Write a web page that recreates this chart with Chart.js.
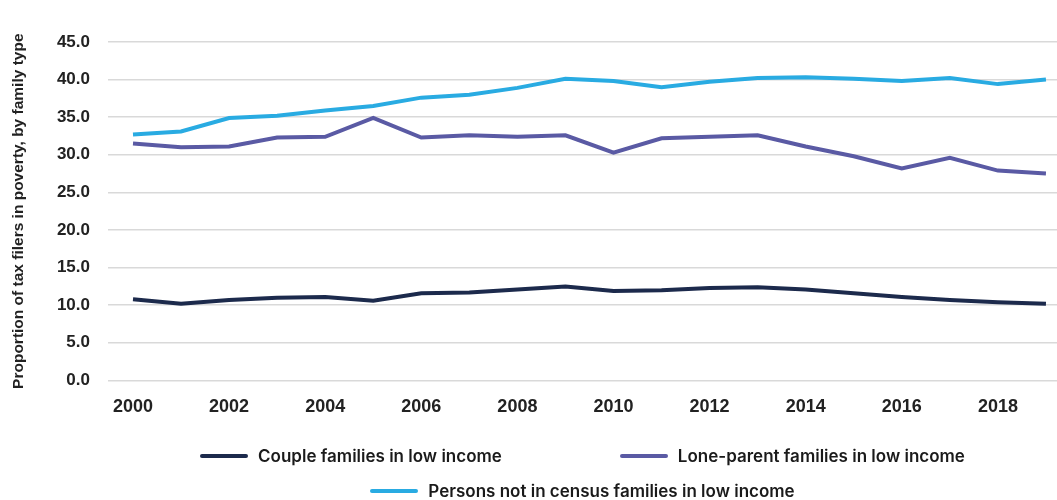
<!DOCTYPE html>
<html>
<head>
<meta charset="utf-8">
<script src="https://cdn.jsdelivr.net/npm/chart.js@4"></script>
<style>
  body { margin: 0; background: #fff; font-family: Inter, sans-serif; }
  #wrap { position: relative; width: 1057px; height: 500px; }
  #box { position: absolute; left: 0; top: 0; width: 1057px; height: 442px; }
  #legend { position: absolute; left: 108px; right: 0; top: 438px; color: #1a1a1a;
            font-size: 17px; font-weight: 600; }
  .row { display: flex; justify-content: center; gap: 118px; height: 35px; align-items: center; }
  .item { display: flex; align-items: center; }
  .swatch { width: 48px; height: 4px; border-radius: 2px; margin-right: 10px; }
</style>
</head>
<body>
<div id="wrap">
  <div id="box"><canvas id="chart"></canvas></div>
  <div id="legend"></div>
</div>
<script>
var years = [2000, 2001, 2002, 2003, 2004, 2005, 2006, 2007, 2008, 2009,
             2010, 2011, 2012, 2013, 2014, 2015, 2016, 2017, 2018, 2019];
var couple = [10.8, 10.2, 10.7, 11.0, 11.1, 10.6, 11.6, 11.7, 12.1, 12.5,
              11.9, 12.0, 12.3, 12.4, 12.1, 11.6, 11.1, 10.7, 10.4, 10.2];
var loneParent = [31.5, 31.0, 31.1, 32.3, 32.4, 34.9, 32.3, 32.6, 32.4, 32.6,
                  30.3, 32.2, 32.4, 32.6, 31.1, 29.8, 28.2, 29.6, 27.9, 27.5];
var personsNot = [32.7, 33.1, 34.9, 35.2, 35.9, 36.5, 37.6, 38.0, 38.9, 40.1,
                  39.8, 39.0, 39.7, 40.2, 40.3, 40.1, 39.8, 40.2, 39.4, 40.0];
var tickYears = [2000, 2002, 2004, 2006, 2008, 2010, 2012, 2014, 2016, 2018];
var seriesNames = ['Couple families in low income', 'Lone-parent families in low income',
                   'Persons not in census families in low income'];
var seriesColors = ['#1c2a4c', '#5a5aa4', '#29abe2'];

function points(vals) {
    return vals.map(function (v, i) { return {x: years[i], y: v}; });
}

var ctx = document.getElementById('chart').getContext('2d');
var chart = new Chart(ctx, {
    type: 'line',
    data: {
        datasets: [couple, loneParent, personsNot].map(function (vals, i) {
            return {
                label: seriesNames[i],
                data: points(vals),
                borderColor: seriesColors[i],
                backgroundColor: seriesColors[i],
                borderWidth: 4,
                pointRadius: 0,
                tension: 0
            };
        })
    },
    options: {
        responsive: true,
        maintainAspectRatio: false,
        animation: false,
        layout: {padding: {top: 42, right: 0, left: 0, bottom: 8}},
        plugins: {legend: {display: false}, tooltip: {enabled: false}},
        scales: {
            x: {
                type: 'linear',
                min: 1999.48,
                max: 2019.23,
                grid: {display: false, drawTicks: false},
                border: {display: false},
                afterBuildTicks: function (scale) {
                    scale.ticks = tickYears.map(function (y) { return {value: y}; });
                },
                ticks: {
                    color: '#222', padding: 16, maxRotation: 0,
                    font: {family: 'Liberation Sans', size: 18, weight: 'bold'},
                    callback: function (v) { return String(v); }
                }
            },
            y: {
                min: 0,
                max: 45,
                afterFit: function (scale) { scale.width = 108; },
                grid: {color: '#d9d9d9', lineWidth: 1.5, drawTicks: false},
                border: {display: false},
                ticks: {
                    stepSize: 5, color: '#222', padding: 18,
                    font: {family: 'Liberation Sans', size: 17, weight: 'bold'},
                    callback: function (v) { return v.toFixed(1); }
                },
                title: {
                    display: true,
                    text: 'Proportion of tax filers in poverty, by family type',
                    color: '#222',
                    font: {family: 'Liberation Sans', size: 15.5, weight: 'bold'},
                    padding: {top: 9, bottom: 0}
                }
            }
        }
    }
});

// legend below the chart, centred over the plot area
var legend = document.getElementById('legend');
[[0, 1], [2]].forEach(function (rowIdx) {
    var row = document.createElement('div');
    row.className = 'row';
    rowIdx.forEach(function (i) {
        var item = document.createElement('div');
        item.className = 'item';
        var sw = document.createElement('span');
        sw.className = 'swatch';
        sw.style.background = seriesColors[i];
        var tx = document.createElement('span');
        tx.textContent = seriesNames[i];
        item.appendChild(sw);
        item.appendChild(tx);
        row.appendChild(item);
    });
    legend.appendChild(row);
});
</script>
</body>
</html>
